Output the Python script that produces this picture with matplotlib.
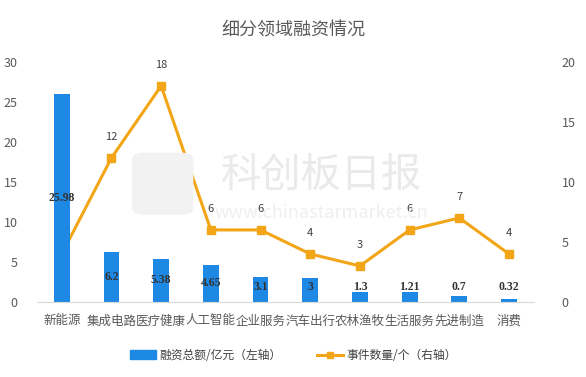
import matplotlib
matplotlib.use("Agg")
from matplotlib import pyplot as plt
from matplotlib.lines import Line2D
from matplotlib.patches import Patch, FancyBboxPatch

plt.rcParams['font.family'] = ['Noto Sans CJK SC', 'DejaVu Sans']

categories = ["新能源", "集成电路", "医疗健康", "人工智能", "企业服务",
              "汽车出行", "农林渔牧", "生活服务", "先进制造", "消费"]
amount = [25.98, 6.2, 5.38, 4.65, 3.1, 3, 1.3, 1.21, 0.7, 0.32]
amount_labels = ["25.98", "6.2", "5.38", "4.65", "3.1", "3", "1.3", "1.21", "0.7", "0.32"]
events = [4, 12, 18, 6, 6, 4, 3, 6, 7, 4]

bar_color = "#1E88E5"
line_color = "#F2A516"
gray = "#595959"

fig = plt.figure(figsize=(5.86, 3.77), dpi=100)
ax = fig.add_axes([0.063, 0.199, 0.848, 0.637])
ax2 = ax.twinx()

x = list(range(len(categories)))
ax.bar(x, amount, width=0.32, color=bar_color, zorder=2)
ax.set_ylim(0, 30)
ax.set_yticks(range(0, 31, 5))
ax.set_xlim(-0.5, len(categories) - 0.5)
ax.set_xticks(x)
ax.set_xticklabels(categories, fontsize=8, color="#404040")

for i, v in enumerate(amount):
    ax.text(i, max(v / 2, 1.9), amount_labels[i], ha="center", va="center",
            fontsize=8.5, fontweight="bold", color="#333333",
            family="Liberation Serif", zorder=5)

ax2.plot(x, events, color=line_color, lw=2.2, marker="s", markersize=5.5, zorder=3)
ax2.set_ylim(0, 20)
ax2.set_yticks(range(0, 21, 5))
for i, v in enumerate(events):
    ax2.text(i, v + 1.3, str(v), ha="center", va="bottom", fontsize=8, color="#404040")

for a in (ax, ax2):
    for s in a.spines.values():
        s.set_visible(False)
    a.tick_params(length=0, colors=gray, labelsize=9)
ax.spines["bottom"].set_visible(True)
ax.spines["bottom"].set_color("#D9D9D9")
ax.tick_params(axis="y", pad=14)
ax2.tick_params(axis="y", pad=20)
ax.tick_params(axis="x", pad=9)
ax.set_zorder(ax2.get_zorder() + 1)
ax.patch.set_visible(False)

# watermark
fig.patches.append(FancyBboxPatch((0.225, 0.43), 0.105, 0.165, boxstyle="round,pad=0,rounding_size=0.02",
                                  transform=fig.transFigure, facecolor="#F2F2F2", edgecolor="none", zorder=0))
fig.text(0.548, 0.536, "科创板日报", fontsize=29, color="#EAEAEA", ha="center", va="center", zorder=0)
fig.text(0.548, 0.435, "www.chinastarmarket.cn", fontsize=13, color="#EFEFEF", ha="center", va="center", zorder=0)

fig.text(0.5, 0.92, "细分领域融资情况", ha="center", va="center", fontsize=13, color=gray)

handles = [Patch(color=bar_color),
           Line2D([0], [0], color=line_color, lw=2.2, marker="s", markersize=5)]
fig.legend(handles, ["融资总额/亿元（左轴）", "事件数量/个（右轴）"],
           loc="center", bbox_to_anchor=(0.5, 0.058), ncol=2, frameon=False,
           fontsize=8.5, labelcolor="#404040", handlelength=2.2, handletextpad=0.3,
           columnspacing=3)

fig.savefig("out.png", dpi=100, facecolor="white")
